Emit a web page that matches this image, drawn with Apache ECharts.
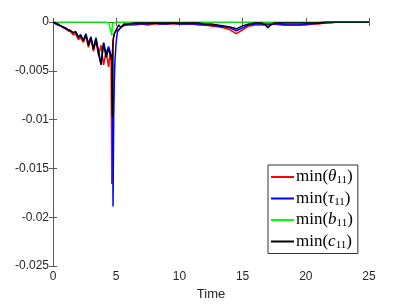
<!DOCTYPE html>
<html><head><meta charset="utf-8">
<script src="https://cdn.jsdelivr.net/npm/echarts@6/dist/echarts.min.js"></script>
<style>html,body{margin:0;padding:0;background:#fff}#c{width:408px;height:306px}</style>
</head><body><div id="c"></div>
<script>
const time = [0,0.2,0.4,0.6,0.8,1.0,1.2,1.4,1.6,1.8,2.0,2.2,2.4,2.6,2.8,3.0,3.2,3.4,3.6,3.8,4.0,4.2,4.4,
  4.5,4.6,4.65,4.7,4.75,4.8,4.85,4.9,
  5.0,5.1,5.2,5.4,5.6,5.8,6.0,
  6.5,7,7.5,8,8.5,9,9.5,10,10.5,11,11.5,12,12.5,13,13.5,14,14.5,15,15.5,16,16.5,
  16.8,17,17.2,
  17.5,18,18.5,19,19.5,20,20.5,21,21.5,22,22.5,23,23.5,24,24.5,25];
const minTheta = [0,-0.0001,-0.0003,-0.0004,-0.0006,-0.0007,-0.0009,-0.0010,-0.0013,-0.0012,-0.0018,-0.0016,-0.0021,-0.0014,-0.0026,-0.0017,-0.0030,-0.0019,-0.0034,-0.0024,-0.0044,-0.0030,-0.0046,
  -0.0032,-0.0040,-0.0166,-0.0030,-0.0020,-0.0015,-0.0012,-0.0010,
  -0.0009,-0.0007,-0.0008,-0.0005,-0.0004,-0.0003,-0.0003,
  -0.0003,-0.0002,-0.0003,-0.0002,-0.0002,-0.0002,-0.0002,-0.0002,-0.0002,-0.0002,-0.0003,-0.0003,-0.0004,-0.0005,-0.0006,-0.0008,-0.0012,-0.0008,-0.0004,-0.0003,-0.0003,
  -0.0003,-0.0003,-0.0003,
  -0.0002,-0.0003,-0.0003,-0.0003,-0.0003,-0.0003,-0.0002,-0.0002,-0.0001,-0.0001,0,0,0,0,0,0];
const minTau = [0,-0.0002,-0.0003,-0.0004,-0.0005,-0.0007,-0.0008,-0.0009,-0.0011,-0.0010,-0.0015,-0.0013,-0.0019,-0.0012,-0.0022,-0.0015,-0.0027,-0.0016,-0.0030,-0.0043,-0.0021,-0.0032,-0.0025,
  -0.0030,-0.0034,-0.0036,-0.0040,-0.0189,-0.0100,-0.0060,-0.0040,
  -0.0020,-0.0010,-0.0008,-0.0005,-0.0003,-0.0003,-0.0002,
  -0.0002,-0.0002,-0.0002,-0.0001,-0.0002,-0.0002,-0.0001,-0.0002,-0.0002,-0.0002,-0.0002,-0.0003,-0.0003,-0.0004,-0.0005,-0.0006,-0.0009,-0.0006,-0.0003,-0.0002,-0.0002,
  -0.0002,-0.0002,-0.0002,
  -0.0002,-0.0002,-0.0003,-0.0003,-0.0003,-0.0002,-0.0002,-0.0001,-0.0001,0,0,0,0,0,0,0];
const minB = [0,0,0,0,0,0,0,0,0,0,0,0,0,0,0,0,0,0,0,0,0,0,-0.0001,
  -0.0003,-0.0010,-0.0014,-0.0002,0,0,0,0,
  0,0,0,0,0,0,0,
  0,0,0,0,0,0,0,0,0,0,0,0,0,0,0,0,0,0,0,0,0,
  0,0,0,
  0,0,0,0,0,0,0,0,0,0,0,0,0,0,0,0];
const minC = [0,-0.0001,-0.0002,-0.0004,-0.0005,-0.0006,-0.0008,-0.0009,-0.0011,-0.0010,-0.0016,-0.0014,-0.0019,-0.0013,-0.0024,-0.0016,-0.0028,-0.0017,-0.0032,-0.0044,-0.0022,-0.0036,-0.0028,
  -0.0030,-0.0035,-0.0040,-0.0097,-0.0020,-0.0015,-0.0012,-0.0010,
  -0.0008,-0.0006,-0.0003,-0.0006,-0.0002,-0.0002,-0.0002,
  -0.0001,-0.0001,-0.0001,-0.0001,-0.0001,-0.0001,-0.0001,-0.0001,-0.0001,-0.0001,-0.0001,-0.0002,-0.0002,-0.0003,-0.0004,-0.0005,-0.0007,-0.0004,-0.0002,-0.0001,-0.0001,
  -0.0003,-0.0006,-0.0003,
  -0.0001,-0.0001,-0.0001,-0.0001,-0.0001,-0.0001,-0.0001,-0.0001,0,0,0,0,0,0,0,0];
const seriesNames = ['θ', 'τ', 'b', 'c'];
const seriesColors = ['#ff0000', '#0000ff', '#00ff00', '#000000'];
const xAxisName = 'Time';

const allValues = [minTheta, minTau, minB, minC];
const pair = arr => time.map((t, i) => [t, arr[i]]);
const legendName = s => 'min(' + s + '11)';

const axisCol = '#5a5a5a';
const chart = echarts.init(document.getElementById('c'), null, {renderer: 'canvas'});
const baseX = {
  type: 'value', min: 0, max: 25, interval: 5,
  axisLine: {show: true, lineStyle: {color: axisCol, width: 1}},
  axisTick: {show: true, inside: true, length: 4, lineStyle: {color: axisCol}},
  splitLine: {show: false}
};
const baseY = {
  type: 'value', min: -0.025, max: 0, interval: 0.005,
  axisLine: {show: true, lineStyle: {color: axisCol, width: 1}},
  axisTick: {show: true, inside: true, length: 4, lineStyle: {color: axisCol}},
  splitLine: {show: false}
};
const option = {
  animation: false,
  backgroundColor: '#fff',
  grid: {left: 53, right: 39, top: 22, bottom: 35},
  xAxis: [
    Object.assign({}, baseX, {position: 'bottom', name: xAxisName, nameLocation: 'middle', nameGap: 21,
      nameTextStyle: {fontFamily: 'Liberation Sans', fontSize: 13, color: '#262626'},
      axisLabel: {fontFamily: 'Liberation Sans', fontSize: 12, color: '#262626', margin: 5}}),
    Object.assign({}, baseX, {position: 'top', axisLabel: {show: false}})
  ],
  yAxis: [
    Object.assign({}, baseY, {position: 'left',
      axisLabel: {fontFamily: 'Liberation Sans', fontSize: 12, color: '#262626', margin: 4,
        formatter: v => v === 0 ? '0' : String(+v.toFixed(3))}}),
    Object.assign({}, baseY, {position: 'right', axisLabel: {show: false}})
  ],
  legend: {
    orient: 'vertical', left: 268, top: 165,
    padding: [3, 5, 3, 3],
    backgroundColor: '#fff', borderColor: '#333', borderWidth: 1,
    icon: 'rect', itemWidth: 23, itemHeight: 2, itemGap: 3.5,
    data: seriesNames.map(legendName),
    formatter: name => {
      const s = name.slice(4, name.length - 3);
      return '{n|min(}{v|' + s + '}{s|11}{n|)}';
    },
    textStyle: {
      color: '#000', fontFamily: 'Liberation Serif', fontSize: 17, padding: [0, 0, 0, -3],
      rich: {
        n: {fontFamily: 'Liberation Serif', fontSize: 17, color: '#000', lineHeight: 18},
        v: {fontFamily: 'Liberation Serif', fontSize: 17, fontStyle: 'italic', color: '#000', lineHeight: 18},
        s: {fontFamily: 'Liberation Serif', fontSize: 11, color: '#000', lineHeight: 18, verticalAlign: 'bottom', padding: [7, 0, 0, 0]}
      }
    }
  },
  series: allValues.map((arr, i) => ({
    name: legendName(seriesNames[i]),
    type: 'line', xAxisIndex: 0, yAxisIndex: 0,
    data: pair(arr), symbol: 'none', showSymbol: false,
    lineStyle: {color: seriesColors[i], width: 1.5},
    itemStyle: {color: seriesColors[i]},
    clip: true
  }))
};
chart.setOption(option);
</script></body></html>
